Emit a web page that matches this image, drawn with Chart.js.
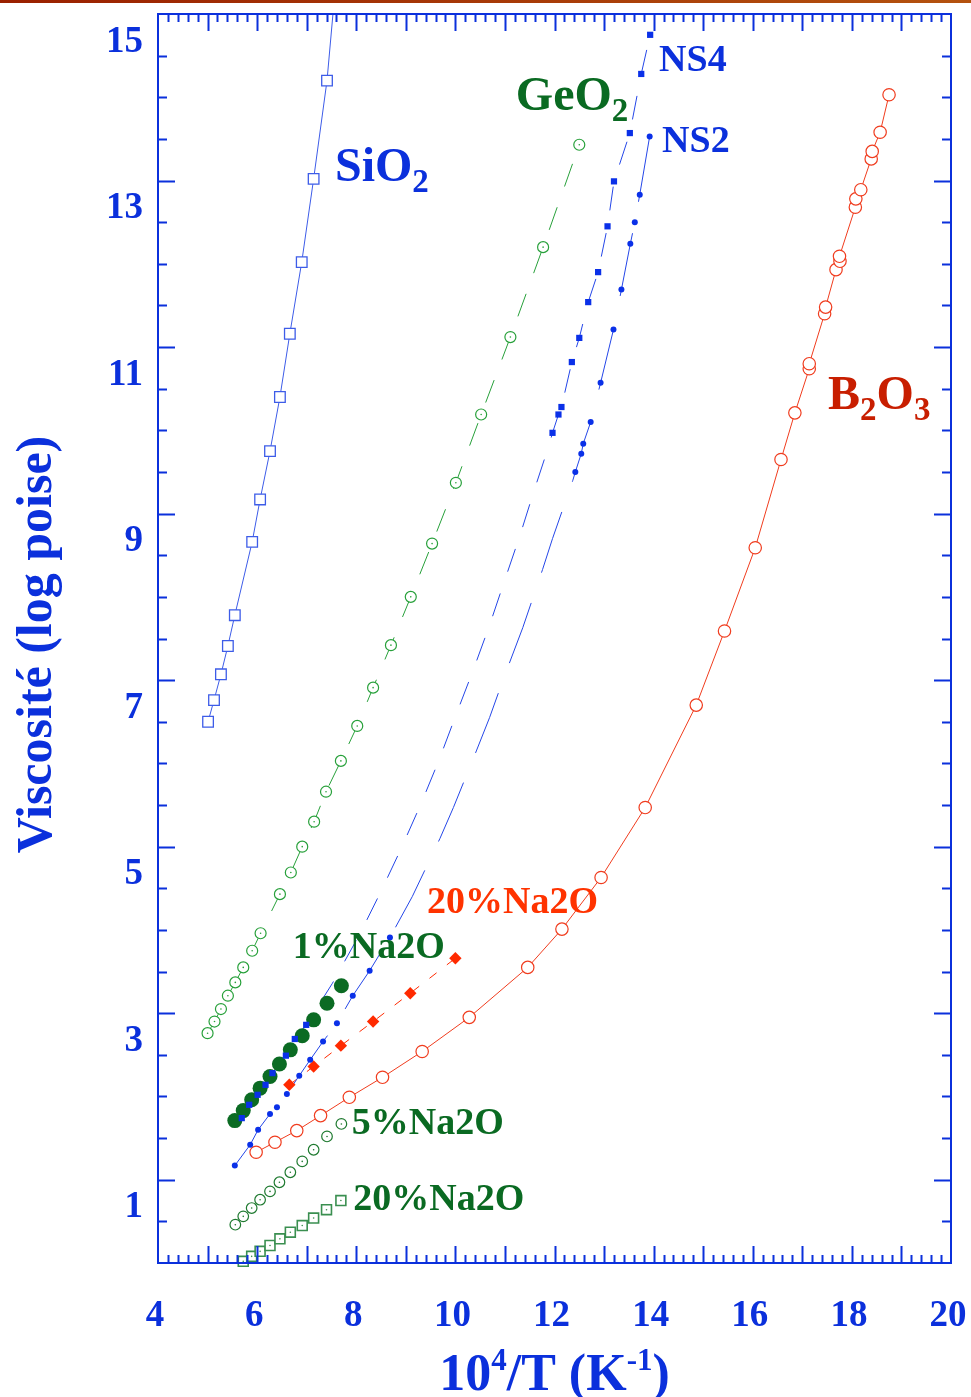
<!DOCTYPE html>
<html>
<head>
<meta charset="utf-8">
<title>Viscosité</title>
<script src="https://cdn.jsdelivr.net/npm/chart.js@4/dist/chart.umd.min.js"></script>
<style>
  html, body { margin: 0; padding: 0; background: #fff; }
  #wrap { position: relative; width: 971px; height: 1397px; }
  #topbar { position: absolute; left: 0; top: 0; width: 971px; height: 3px;
            background: linear-gradient(to right, #9a2000, #b4520e); }
</style>
</head>
<body>
<div id="wrap">
  <canvas id="chart" width="971" height="1397"></canvas>
  <div id="topbar"></div>
</div>
<script>
// values: [10^4/T, log viscosity]
const sio2 = [[5.01, 6.50], [5.13, 6.76], [5.27, 7.07], [5.41, 7.41], [5.55, 7.78], [5.90, 8.66],
  [6.06, 9.17], [6.26, 9.75], [6.46, 10.40], [6.66, 11.16], [6.90, 12.02], [7.14, 13.02], [7.41, 14.20]];
const sio2Tail = [[7.53, 15.0]];

const geo2 = [[5.00, 2.76], [5.14, 2.90], [5.27, 3.05], [5.41, 3.21], [5.56, 3.37], [5.72, 3.55],
  [5.90, 3.75], [6.07, 3.96], [6.46, 4.43], [6.68, 4.69], [6.91, 5.00], [7.15, 5.30], [7.39, 5.66],
  [7.69, 6.03], [8.02, 6.45], [8.34, 6.91], [8.70, 7.42], [9.10, 8.00], [9.53, 8.64], [10.01, 9.37],
  [10.52, 10.19], [11.11, 11.12], [11.77, 12.20], [12.50, 13.43]];

const ns4 = [[5.69, 1.74], [5.84, 1.90], [6.01, 2.02], [6.17, 2.14], [6.31, 2.28], [6.58, 2.49],
  [6.76, 2.69], [6.99, 2.86],
  [11.96, 9.97], [12.08, 10.19], [12.14, 10.28], [12.35, 10.82], [12.50, 11.11], [12.68, 11.54],
  [12.88, 11.90], [13.07, 12.45], [13.20, 12.99], [13.52, 13.57], [13.75, 14.28], [13.93, 14.75]];
// dashed fit curve between the two NS4 groups
const ns4Fit = [[7.52, 3.36], [8.08, 3.96], [8.48, 4.44], [8.90, 4.97], [9.31, 5.52], [9.67, 6.04],
  [10.03, 6.61], [10.36, 7.12], [10.69, 7.66], [10.99, 8.19], [11.31, 8.75], [11.59, 9.28], [11.90, 9.84]];

const ns2 = [[5.55, 1.17], [5.86, 1.42], [6.02, 1.60], [6.26, 1.79], [6.40, 1.87], [6.60, 2.03],
  [6.85, 2.25], [7.07, 2.44], [7.33, 2.66], [7.61, 2.88], [7.93, 3.21], [8.27, 3.51], [8.68, 3.91],
  [12.42, 9.50], [12.54, 9.72], [12.58, 9.84], [12.73, 10.10], [12.93, 10.57], [13.19, 11.21],
  [13.35, 11.69], [13.53, 12.24], [13.62, 12.50], [13.72, 12.83], [13.92, 13.53]];
const ns2Fit = [[9.13, 4.40], [9.69, 5.10], [9.96, 5.47], [10.43, 6.16], [10.69, 6.55], [10.96, 7.00],
  [11.36, 7.63], [11.76, 8.33], [11.96, 8.70], [12.37, 9.40]];

const b2o3 = [[5.98, 1.33], [6.36, 1.45], [6.80, 1.59], [7.28, 1.77], [7.86, 1.99], [8.53, 2.23],
  [9.33, 2.54], [10.28, 2.95], [11.46, 3.55], [12.15, 4.01], [12.94, 4.63], [13.83, 5.47],
  [14.86, 6.70], [15.43, 7.59], [16.05, 8.59], [16.57, 9.65], [16.85, 10.21], [17.14, 10.74],
  [17.14, 10.80], [17.45, 11.40], [17.47, 11.48], [17.68, 11.93], [17.76, 12.03], [17.75, 12.09],
  [18.07, 12.68], [18.08, 12.78], [18.18, 12.89], [18.39, 13.26], [18.41, 13.35], [18.57, 13.58],
  [18.75, 14.03]];

const na20Red = [[6.65, 2.14], [7.14, 2.36], [7.69, 2.61], [8.34, 2.90], [9.09, 3.24], [10.00, 3.66]];
const na1Green = [[5.55, 1.71], [5.72, 1.83], [5.89, 1.96], [6.06, 2.10], [6.26, 2.24], [6.45, 2.39],
  [6.67, 2.56], [6.91, 2.73], [7.14, 2.92], [7.41, 3.12], [7.70, 3.33]];
const na5Green = [[5.56, 0.46], [5.72, 0.56], [5.89, 0.66], [6.06, 0.76], [6.26, 0.86], [6.45, 0.97],
  [6.67, 1.09], [6.91, 1.22], [7.14, 1.36], [7.41, 1.52], [7.70, 1.67]];
const na20Green = [[5.72, 0.02], [5.89, 0.08], [6.06, 0.14], [6.26, 0.21], [6.46, 0.29], [6.67, 0.37],
  [6.91, 0.45], [7.14, 0.54], [7.40, 0.64], [7.69, 0.75]];

const xTickLabels = [4, 6, 8, 10, 12, 14, 16, 18, 20];
const yTickLabels = [1, 3, 5, 7, 9, 11, 13, 15];

// curve labels: left edge / baseline in data units, '_' marks a subscript
const curveLabels = [
  { x: 7.57, y: 13.00, parts: ['SiO', '_2'], color: 'blue', size: 48 },
  { x: 11.22, y: 13.85, parts: ['GeO', '_2'], color: 'green', size: 48 },
  { x: 14.11, y: 14.32, parts: ['NS4'], color: 'blue', size: 38 },
  { x: 14.17, y: 13.34, parts: ['NS2'], color: 'blue', size: 38 },
  { x: 17.52, y: 10.26, parts: ['B', '_2', 'O', '_3'], color: 'darkred', size: 48 },
  { x: 9.43, y: 4.20, parts: ['20%Na2O'], color: 'red', size: 38 },
  { x: 6.72, y: 3.66, parts: ['1%Na2O'], color: 'green', size: 38 },
  { x: 7.91, y: 1.55, parts: ['5%Na2O'], color: 'green', size: 38 },
  { x: 7.94, y: 0.64, parts: ['20%Na2O'], color: 'green', size: 38 }
];

const COLORS = {
  axis: '#0b30dc', blue: '#0b30dc', green: '#0a6a22', darkred: '#c81e00', red: '#ff3300',
  sio2: '#3d5ce8', geo2: '#27a03a', ns: '#0a30e8', nsLine: '#2446e8', b2o3: '#f03c1e',
  na20Red: '#ff2a00', na1: '#0b6b23', na5: '#1f7a30', na20: '#3a8f50'
};
const FONT = '"Liberation Serif", "Times New Roman", serif';

const pts = arr => arr.map(([x, y]) => ({ x, y }));
const byX = arr => arr.slice().sort((a, b) => a[0] - b[0]);

function markerSet(arr, style, radius, border, fill, width) {
  return {
    data: pts(arr), showLine: false, pointStyle: style, pointRadius: radius,
    pointBorderColor: border, pointBackgroundColor: fill, pointBorderWidth: width,
    clip: false, order: 1
  };
}
function dotSet(arr, color) {
  return {
    data: pts(arr), showLine: false, pointStyle: 'circle', pointRadius: 0.8,
    pointBorderWidth: 0, pointBackgroundColor: color, clip: false, order: 0
  };
}
function lineSet(arr, color, dash) {
  return {
    data: pts(arr), showLine: true, pointRadius: 0, borderColor: color, borderWidth: 1,
    borderDash: dash, tension: 0, fill: false, order: 5
  };
}

const datasets = [
  lineSet(sio2.concat(sio2Tail), COLORS.sio2, []),
  lineSet(geo2, COLORS.geo2, [24, 22]),
  lineSet(byX(ns4.concat(ns4Fit)), COLORS.nsLine, [24, 23]),
  lineSet(byX(ns2.concat(ns2Fit)), COLORS.nsLine, [64, 32]),
  lineSet(b2o3, COLORS.b2o3, []),
  lineSet(na20Red, COLORS.na20Red, [9, 13]),

  markerSet(sio2, 'rect', 7.5, COLORS.sio2, '#fff', 1.3),
  markerSet(geo2, 'circle', 5.5, COLORS.geo2, '#fff', 1.2),
  markerSet(ns4, 'rect', 4.4, COLORS.ns, COLORS.ns, 0),
  markerSet(ns2, 'circle', 3, COLORS.ns, COLORS.ns, 0),
  markerSet(b2o3, 'circle', 6.2, COLORS.b2o3, '#fff', 1.2),
  markerSet(na20Red, 'rectRot', 6.2, COLORS.na20Red, COLORS.na20Red, 0),
  markerSet(na1Green, 'circle', 7.5, COLORS.na1, COLORS.na1, 0),
  markerSet(na5Green, 'circle', 5.3, COLORS.na5, '#fff', 1.2),
  markerSet(na20Green, 'rect', 7, COLORS.na20, '#fff', 1.6),

  dotSet(geo2, COLORS.geo2),
  dotSet(na5Green, COLORS.na5),
  dotSet(na20Green, COLORS.na20)
];

// frame with inward ticks on all four sides
const frameTicks = {
  id: 'frameTicks',
  afterDatasetsDraw(chart) {
    const { ctx, chartArea: a, scales: { x, y } } = chart;
    ctx.save();
    ctx.strokeStyle = COLORS.axis;
    ctx.lineWidth = 2;
    ctx.strokeRect(a.left, a.top, a.right - a.left, a.bottom - a.top);
    ctx.beginPath();
    for (let i = 1; i < 30; i++) {
      const v = i * 0.5;
      const py = Math.round(y.getPixelForValue(v)) + 0.5;
      const len = (v % 2 === 1) ? 17 : 9;
      ctx.moveTo(a.left, py); ctx.lineTo(a.left + len, py);
      ctx.moveTo(a.right, py); ctx.lineTo(a.right - len, py);
    }
    for (let i = 1; i < 80; i++) {
      const px = Math.round(x.getPixelForValue(4 + i * 0.2)) + 0.5;
      const len = (i % 5 === 0) ? 17 : 8;
      ctx.moveTo(px, a.bottom); ctx.lineTo(px, a.bottom - len);
      ctx.moveTo(px, a.top); ctx.lineTo(px, a.top + len);
    }
    ctx.stroke();
    ctx.restore();
  }
};

function drawParts(ctx, x, y, parts, size) {
  let cx = x;
  parts.forEach(p => {
    let s = size, dy = 0, t = p;
    if (p[0] === '_') { t = p.slice(1); s = Math.round(size * 0.68); dy = size * 0.24; }
    if (p[0] === '^') { t = p.slice(1); s = Math.round(size * 0.6); dy = -size * 0.38; }
    ctx.font = 'bold ' + s + 'px ' + FONT;
    ctx.fillText(t, cx, y + dy);
    cx += ctx.measureText(t).width;
  });
  return cx - x;
}

// curve names and axis titles
const textLayer = {
  id: 'textLayer',
  afterDraw(chart) {
    const { ctx, chartArea: a, scales: { x, y } } = chart;
    ctx.save();
    ctx.textAlign = 'left';
    ctx.textBaseline = 'alphabetic';
    curveLabels.forEach(l => {
      ctx.fillStyle = COLORS[l.color];
      drawParts(ctx, x.getPixelForValue(l.x), y.getPixelForValue(l.y), l.parts, l.size);
    });

    // y title
    ctx.fillStyle = COLORS.blue;
    ctx.save();
    ctx.translate(38, (a.top + a.bottom) / 2 + 6);
    ctx.rotate(-Math.PI / 2);
    ctx.textAlign = 'center';
    ctx.textBaseline = 'middle';
    ctx.font = 'bold 50px ' + FONT;
    ctx.fillText('Viscosité (log poise)', 0, 0);
    ctx.restore();

    // x title with superscripts
    const xParts = ['10', '^4', '/T (K', '^-1', ')'];
    ctx.globalAlpha = 0;
    const w = drawParts(ctx, 0, 0, xParts, 52);
    ctx.globalAlpha = 1;
    drawParts(ctx, (a.left + a.right) / 2 - w / 2, 1390, xParts, 52);
    ctx.restore();
  }
};

new Chart(document.getElementById('chart'), {
  type: 'scatter',
  data: { datasets },
  options: {
    responsive: false,
    animation: false,
    events: [],
    layout: { padding: { top: 14, right: 20, left: 0, bottom: 0 } },
    plugins: { legend: { display: false }, tooltip: { enabled: false } },
    scales: {
      x: {
        type: 'linear', min: 4, max: 20,
        afterBuildTicks: s => { s.ticks = xTickLabels.map(v => ({ value: v })); },
        afterFit: s => { s.height = 134; s.paddingLeft = 0; s.paddingRight = 0; },
        grid: { display: false, drawTicks: false },
        border: { display: false },
        ticks: {
          padding: 31, labelOffset: -3, color: COLORS.blue, autoSkip: false, maxRotation: 0,
          font: { family: FONT, weight: 'bold', size: 37 }
        }
      },
      y: {
        type: 'linear', min: 0, max: 15,
        afterBuildTicks: s => { s.ticks = yTickLabels.map(v => ({ value: v })); },
        afterFit: s => { s.width = 158; s.paddingTop = 0; s.paddingBottom = 0; },
        grid: { display: false, drawTicks: false },
        border: { display: false },
        ticks: {
          padding: 15, labelOffset: 28, color: COLORS.blue, autoSkip: false,
          font: { family: FONT, weight: 'bold', size: 37 }
        }
      }
    }
  },
  plugins: [frameTicks, textLayer]
});
</script>
</body>
</html>
